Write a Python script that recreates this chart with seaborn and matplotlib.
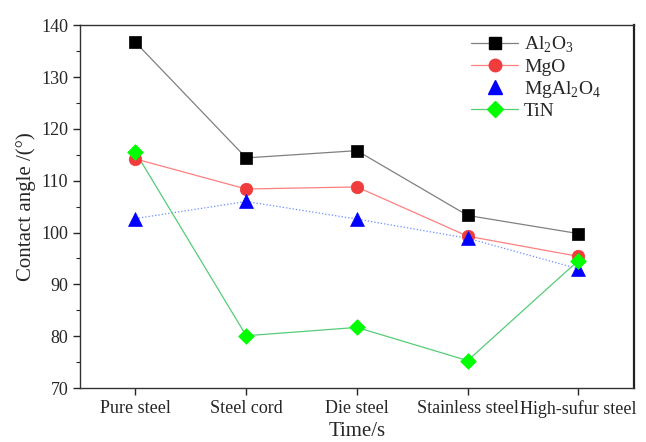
import matplotlib
matplotlib.use("Agg")
import matplotlib.pyplot as plt
from matplotlib.ticker import AutoMinorLocator
from matplotlib.lines import Line2D
import seaborn as sns
import pandas as pd

steels = ["Pure steel", "Steel cord", "Die steel", "Stainless steel", "High-sufur steel"]
al2o3 = [136.7, 114.4, 115.8, 103.3, 99.8]
mgo = [114.2, 108.4, 108.8, 99.3, 95.4]
mgal2o4 = [102.7, 106.0, 102.6, 98.9, 93.0]
tin = [115.5, 80.1, 81.7, 75.3, 94.6]

series = {
    "Al$_2$O$_3$": al2o3,
    "MgO": mgo,
    "MgAl$_2$O$_4$": mgal2o4,
    "TiN": tin,
}
rows = []
for name, vals in series.items():
    for i, v in enumerate(vals):
        rows.append({"pos": i, "steel": steels[i], "angle": v, "inclusion": name})
df = pd.DataFrame(rows)

sns.set_style("ticks")
plt.rcParams["font.family"] = ["Liberation Serif", "DejaVu Serif"]
plt.rcParams["mathtext.fontset"] = "custom"
plt.rcParams["mathtext.rm"] = "Liberation Serif"

fig = plt.figure(figsize=(6.46, 4.42), dpi=100)
ax = fig.add_axes([0.124, 0.122, 0.857, 0.821])

styles = {
    "Al$_2$O$_3$": dict(line="#808080", mk="#000000", marker="s", ls="-", ms=8),
    "MgO": dict(line="#ff8080", mk="#f03c3c", marker="o", ls="-", ms=9),
    "MgAl$_2$O$_4$": dict(line="#6a8cff", mk="#0000ff", marker="^", ls=":", ms=10),
    "TiN": dict(line="#55cc77", mk="#00ff00", marker="D", ls="-", ms=8),
}

handles = []
for name, st in styles.items():
    sub = df[df["inclusion"] == name]
    sns.lineplot(data=sub, x="pos", y="angle", ax=ax, color=st["line"],
                 linewidth=0.9, linestyle=st["ls"], legend=False)
    sns.scatterplot(data=sub, x="pos", y="angle", ax=ax, marker=st["marker"],
                    color=st["mk"], s=st["ms"] ** 2, edgecolor=st["mk"],
                    linewidth=0.5, zorder=3, legend=False)
    if name == "MgAl$_2$O$_4$":
        h = Line2D([], [], color=st["mk"], marker=st["marker"], ls="none",
                   markersize=st["ms"])
    else:
        h = Line2D([], [], color=st["line"], linewidth=0.9, marker=st["marker"],
                   markerfacecolor=st["mk"], markeredgecolor=st["mk"],
                   markersize=st["ms"])
    handles.append(h)

ax.set_xlim(-0.5, 4.5)
ax.set_ylim(70, 140)
ax.set_xticks(range(len(steels)))
ax.set_xticklabels(steels, fontsize=13)
ax.set_yticks(range(70, 141, 10))
ax.yaxis.set_minor_locator(AutoMinorLocator(2))
ax.tick_params(axis="y", labelsize=13, direction="out", length=5, width=1)
ax.tick_params(axis="y", which="minor", direction="out", length=3, width=0.8)
ax.tick_params(axis="x", direction="out", length=5, width=1)
ax.set_xlabel("Time/s", fontsize=15, labelpad=3)
ax.set_ylabel("Contact angle /(°)", fontsize=15)

for side in ["top", "left", "bottom"]:
    ax.spines[side].set_color("#333333")
    ax.spines[side].set_linewidth(1.0)
ax.spines["right"].set_color("#222222")
ax.spines["right"].set_linewidth(1.6)

ax.legend(handles, list(styles.keys()), loc="upper right", frameon=False,
          fontsize=14, bbox_to_anchor=(0.955, 0.995), borderaxespad=0,
          handlelength=2.4, labelspacing=0.15, handletextpad=0.3)

fig.savefig("out.png", dpi=100)
